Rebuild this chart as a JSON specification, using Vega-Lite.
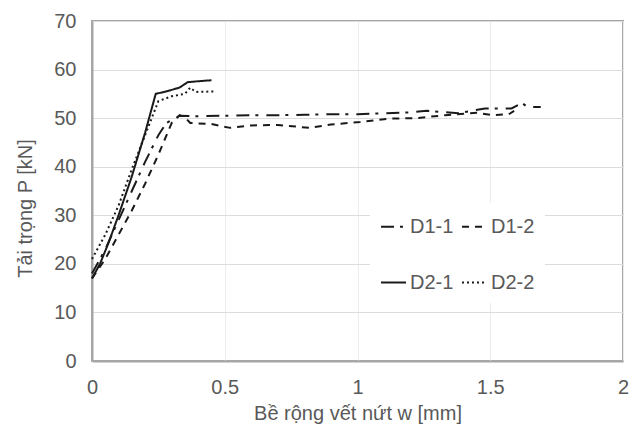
{
  "$schema": "https://vega.github.io/schema/vega-lite/v6.json",
  "width": 531,
  "height": 340,
  "autosize": {"type": "none"},
  "padding": {"left": 92, "top": 21, "right": 17, "bottom": 66},
  "background": "white",
  "config": {
    "view": {"stroke": "#a6a6a6", "strokeWidth": 2},
    "font": "Liberation Sans"
  },
  "data": {
    "values": [
      {"s": "D1-1", "i": 0, "w": 0, "p": 18},
      {"s": "D1-1", "i": 1, "w": 0.05, "p": 23},
      {"s": "D1-1", "i": 2, "w": 0.1, "p": 29},
      {"s": "D1-1", "i": 3, "w": 0.15, "p": 35},
      {"s": "D1-1", "i": 4, "w": 0.2, "p": 41},
      {"s": "D1-1", "i": 5, "w": 0.25, "p": 46.5},
      {"s": "D1-1", "i": 6, "w": 0.28, "p": 49},
      {"s": "D1-1", "i": 7, "w": 0.33, "p": 50.5},
      {"s": "D1-1", "i": 8, "w": 0.4, "p": 50.4},
      {"s": "D1-1", "i": 9, "w": 0.5, "p": 50.5},
      {"s": "D1-1", "i": 10, "w": 0.6, "p": 50.6},
      {"s": "D1-1", "i": 11, "w": 0.7, "p": 50.6},
      {"s": "D1-1", "i": 12, "w": 0.8, "p": 50.7},
      {"s": "D1-1", "i": 13, "w": 0.9, "p": 50.8},
      {"s": "D1-1", "i": 14, "w": 1.0, "p": 50.8},
      {"s": "D1-1", "i": 15, "w": 1.1, "p": 51.0},
      {"s": "D1-1", "i": 16, "w": 1.2, "p": 51.2},
      {"s": "D1-1", "i": 17, "w": 1.26, "p": 51.5},
      {"s": "D1-1", "i": 18, "w": 1.38, "p": 51.0},
      {"s": "D1-1", "i": 19, "w": 1.48, "p": 52.0},
      {"s": "D1-1", "i": 20, "w": 1.58, "p": 52.0},
      {"s": "D1-1", "i": 21, "w": 1.62, "p": 53.1},
      {"s": "D1-1", "i": 22, "w": 1.64, "p": 52.3},
      {"s": "D1-1", "i": 23, "w": 1.69, "p": 52.3},
      {"s": "D1-2", "i": 0, "w": 0, "p": 17},
      {"s": "D1-2", "i": 1, "w": 0.05, "p": 21},
      {"s": "D1-2", "i": 2, "w": 0.1, "p": 26},
      {"s": "D1-2", "i": 3, "w": 0.15, "p": 31},
      {"s": "D1-2", "i": 4, "w": 0.2, "p": 36.5},
      {"s": "D1-2", "i": 5, "w": 0.25, "p": 42.5},
      {"s": "D1-2", "i": 6, "w": 0.3, "p": 49},
      {"s": "D1-2", "i": 7, "w": 0.33, "p": 50.6},
      {"s": "D1-2", "i": 8, "w": 0.35, "p": 50.2},
      {"s": "D1-2", "i": 9, "w": 0.37, "p": 49.0},
      {"s": "D1-2", "i": 10, "w": 0.45, "p": 48.8},
      {"s": "D1-2", "i": 11, "w": 0.52, "p": 48.0},
      {"s": "D1-2", "i": 12, "w": 0.6, "p": 48.5},
      {"s": "D1-2", "i": 13, "w": 0.7, "p": 48.6},
      {"s": "D1-2", "i": 14, "w": 0.82, "p": 48.0},
      {"s": "D1-2", "i": 15, "w": 0.9, "p": 48.7},
      {"s": "D1-2", "i": 16, "w": 1.01, "p": 49.2},
      {"s": "D1-2", "i": 17, "w": 1.12, "p": 49.9},
      {"s": "D1-2", "i": 18, "w": 1.22, "p": 50.0},
      {"s": "D1-2", "i": 19, "w": 1.33, "p": 50.6},
      {"s": "D1-2", "i": 20, "w": 1.45, "p": 51.1},
      {"s": "D1-2", "i": 21, "w": 1.51, "p": 50.6},
      {"s": "D1-2", "i": 22, "w": 1.57, "p": 50.8},
      {"s": "D1-2", "i": 23, "w": 1.59, "p": 51.5},
      {"s": "D2-1", "i": 0, "w": 0, "p": 17},
      {"s": "D2-1", "i": 1, "w": 0.03, "p": 20},
      {"s": "D2-1", "i": 2, "w": 0.06, "p": 24},
      {"s": "D2-1", "i": 3, "w": 0.1, "p": 30},
      {"s": "D2-1", "i": 4, "w": 0.15, "p": 38},
      {"s": "D2-1", "i": 5, "w": 0.2, "p": 47},
      {"s": "D2-1", "i": 6, "w": 0.24, "p": 55},
      {"s": "D2-1", "i": 7, "w": 0.28, "p": 55.5},
      {"s": "D2-1", "i": 8, "w": 0.33, "p": 56.3},
      {"s": "D2-1", "i": 9, "w": 0.36, "p": 57.4},
      {"s": "D2-1", "i": 10, "w": 0.4, "p": 57.6},
      {"s": "D2-1", "i": 11, "w": 0.45, "p": 57.8},
      {"s": "D2-2", "i": 0, "w": 0, "p": 21},
      {"s": "D2-2", "i": 1, "w": 0.05, "p": 26},
      {"s": "D2-2", "i": 2, "w": 0.1, "p": 32},
      {"s": "D2-2", "i": 3, "w": 0.15, "p": 39.5},
      {"s": "D2-2", "i": 4, "w": 0.2, "p": 46.5},
      {"s": "D2-2", "i": 5, "w": 0.25, "p": 53.5},
      {"s": "D2-2", "i": 6, "w": 0.3, "p": 54.5},
      {"s": "D2-2", "i": 7, "w": 0.35, "p": 55},
      {"s": "D2-2", "i": 8, "w": 0.37, "p": 56.3},
      {"s": "D2-2", "i": 9, "w": 0.39, "p": 55.4},
      {"s": "D2-2", "i": 10, "w": 0.46, "p": 55.5}
    ]
  },
  "mark": {"type": "line", "color": "#1a1a1a", "strokeWidth": 2},
  "encoding": {
    "x": {
      "field": "w",
      "type": "quantitative",
      "scale": {"domain": [0, 2], "nice": false, "zero": false},
      "axis": {
        "title": "Bề rộng vết nứt w [mm]",
        "values": [0, 0.5, 1, 1.5, 2],
        "format": "~g",
        "grid": true,
        "gridColor": "#ececec",
        "gridWidth": 1,
        "ticks": false,
        "domain": true,
        "domainColor": "#a6a6a6",
        "domainWidth": 2,
        "labelFontSize": 20,
        "labelColor": "#595959",
        "labelPadding": 16,
        "labelFlush": false,
        "titleFontSize": 20,
        "titleFontWeight": "normal",
        "titleColor": "#595959",
        "titlePadding": 6
      }
    },
    "y": {
      "field": "p",
      "type": "quantitative",
      "scale": {"domain": [0, 70], "nice": false},
      "axis": {
        "title": "Tải trọng P [kN]",
        "values": [0, 10, 20, 30, 40, 50, 60, 70],
        "grid": true,
        "gridColor": "#dcdcdc",
        "gridWidth": 1,
        "ticks": false,
        "domain": true,
        "domainColor": "#a6a6a6",
        "domainWidth": 2,
        "labelFontSize": 20,
        "labelColor": "#595959",
        "labelPadding": 16,
        "labelFlush": false,
        "titleFontSize": 20,
        "titleFontWeight": "normal",
        "titleColor": "#595959",
        "titlePadding": 18,
        "titleY": 187
      }
    },
    "order": {"field": "i", "type": "quantitative"},
    "strokeDash": {
      "field": "s",
      "type": "nominal",
      "scale": {
        "domain": ["D1-1", "D2-1", "D1-2", "D2-2"],
        "range": [[13, 6, 3, 8], [1, 0], [7, 6], [2, 3]]
      },
      "legend": {
        "title": null,
        "orient": "none",
        "legendX": 278,
        "legendY": 182,
        "columns": 2,
        "columnPadding": 4,
        "rowPadding": 32,
        "padding": 10,
        "fillColor": "white",
        "symbolType": "stroke",
        "symbolSize": 625,
        "symbolStrokeWidth": 2,
        "symbolStrokeColor": "#1a1a1a",
        "labelFontSize": 20,
        "labelColor": "#595959",
        "labelOffset": 3
      }
    },
    "strokeWidth": {
      "field": "s",
      "type": "nominal",
      "scale": {"domain": ["D1-1", "D1-2", "D2-1", "D2-2"], "range": [2, 2, 3, 2]},
      "legend": null
    }
  }
}
